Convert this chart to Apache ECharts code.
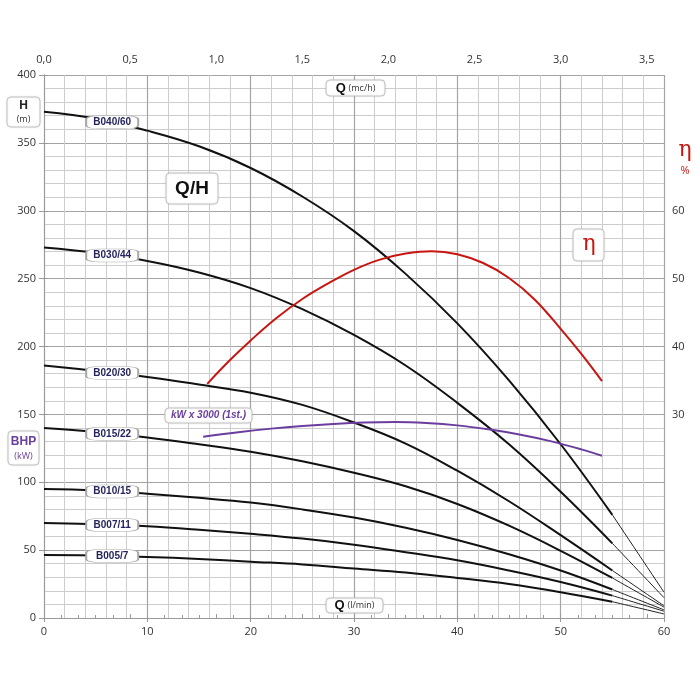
<!DOCTYPE html>
<html>
<head>
<meta charset="utf-8">
<script src="https://cdn.jsdelivr.net/npm/echarts@6/dist/echarts.min.js"></script>
<style>
  html, body { margin: 0; padding: 0; background: #fff; }
  #main { width: 700px; height: 700px; }
</style>
</head>
<body>
<div id="main"></div>
<script>
// portata (l/min) per le curve Q/H
const qFlow = [0, 5, 10, 15, 20, 25, 30, 35, 40, 45, 50, 55, 60]

// prevalenza H (m) per ogni pompa
const hB040 = [373, 368, 359, 347.5, 331.5, 310.5, 285, 253.5, 217, 175, 128, 76, 19]
const hB030 = [273, 269, 263, 254.5, 243, 227.5, 208.5, 186, 158.5, 128, 93, 55, 15]
const hB020 = [186, 182, 177.5, 172, 166, 157, 144, 128.5, 108.5, 86, 61, 35, 9]
const hB015 = [140, 137, 133, 128, 122.5, 115.5, 107, 97, 84, 68, 49.5, 29.5, 8]
const hB010 = [95, 94, 91.5, 88.5, 85, 80, 74, 66.5, 57.5, 47, 35, 21, 6]
const hB007 = [70, 69, 67.5, 65, 62, 58.5, 54, 48.5, 42.5, 35, 26.5, 16.5, 5]
const hB005 = [46.5, 46, 45, 43.5, 41.5, 39.5, 36.5, 33.5, 29.5, 25, 19, 12, 3]

const pumpNames = ['B040/60', 'B030/44', 'B020/30', 'B015/22', 'B010/15', 'B007/11', 'B005/7']
const pumpHeads = [hB040, hB030, hB020, hB015, hB010, hB007, hB005]

// rendimento η (%)
const qEta = [15.8, 18, 20, 22.5, 25, 27.5, 30, 32.5, 35, 37.5, 40, 42.5, 45, 47.5, 50, 52, 54]
const eta = [34.5, 38, 40.9, 44.2, 47, 49.3, 51.3, 52.8, 53.7, 54.05, 53.6, 52.3, 50.1, 46.9, 42.6, 38.9, 34.9]

const qKw = [15.4, 19, 22, 25, 28, 31, 34, 37, 40, 43, 46, 49, 52, 54]
const kw = [133.5, 137, 139.5, 141.5, 143, 144, 144.3, 143.6, 141.9, 139, 135.2, 130.3, 124.2, 119.5]

// tick labels
const hTicks = [0, 50, 100, 150, 200, 250, 300, 350, 400]
const qTicks = [0, 10, 20, 30, 40, 50, 60]
const mchTicks = [0, 0.5, 1.0, 1.5, 2.0, 2.5, 3.0, 3.5]
const etaTicks = [30, 40, 50, 60]

const labelQ = 6.6   // dove stanno le etichette delle pompe
const tailFrom = 55  // da qui la curva è più sottile

const purple = '#6a3d9e'
const red = '#c8150f'
const font = 'Open Sans'

function interp (xs, ys, x) {
  for (let i = 0; i < xs.length - 1; i++) {
    if (x >= xs[i] && x <= xs[i + 1]) {
      const t = (x - xs[i]) / (xs[i + 1] - xs[i])
      return ys[i] + t * (ys[i + 1] - ys[i])
    }
  }
  return ys[ys.length - 1]
}

const series = []
pumpHeads.forEach((h, k) => {
  const pts = qFlow.map((q, i) => [q, h[i]])
  series.push({
    name: pumpNames[k],
    type: 'line',
    smooth: 0.4,
    symbol: 'none',
    lineStyle: { color: '#111', width: 2 },
    data: pts.filter(p => p[0] <= tailFrom),
    markPoint: {
      symbol: 'roundRect',
      symbolSize: [52, 13],
      itemStyle: { color: '#fff', borderColor: '#a8a8a8', borderWidth: 1 },
      label: {
        show: true,
        formatter: pumpNames[k],
        color: '#25255e',
        fontSize: 10,
        fontWeight: 'bold',
        fontFamily: 'Liberation Sans'
      },
      data: [{ coord: [labelQ, interp(qFlow, h, labelQ)] }]
    }
  })
  series.push({
    type: 'line',
    smooth: 0.4,
    symbol: 'none',
    lineStyle: { color: '#222', width: 1 },
    data: pts.filter(p => p[0] >= tailFrom)
  })
})

series.push({
  name: 'eta',
  type: 'line',
  yAxisIndex: 1,
  smooth: 0.4,
  symbol: 'none',
  lineStyle: { color: red, width: 2 },
  data: qEta.map((q, i) => [q, eta[i]])
})

series.push({
  name: 'kW',
  type: 'line',
  smooth: 0.4,
  symbol: 'none',
  lineStyle: { color: purple, width: 2 },
  data: qKw.map((q, i) => [q, kw[i]])
})

// riquadri con testo
function box (x, y, w, h) {
  return {
    type: 'rect',
    z: 100,
    shape: { x: x, y: y, width: w, height: h, r: 4 },
    style: { fill: '#fff', stroke: '#c4c4c4', lineWidth: 1, shadowBlur: 2, shadowColor: 'rgba(0,0,0,0.12)' }
  }
}
function txt (x, y, text, size, color, extra) {
  return {
    type: 'text',
    z: 101,
    x: x,
    y: y,
    style: Object.assign({
      text: text,
      fontSize: size,
      fill: color,
      fontFamily: font,
      align: 'center',
      verticalAlign: 'middle'
    }, extra || {})
  }
}
const qRich = {
  rich: {
    b: { fontSize: 13, fontWeight: 'bold', fill: '#111', fontFamily: 'Liberation Sans' },
    s: { fontSize: 9, fill: '#333', fontFamily: font }
  }
}

const graphics = [
  box(7, 97, 33, 30),
  txt(23.5, 106, 'H', 12, '#222', { fontWeight: 'bold', fontFamily: 'Liberation Sans' }),
  txt(23.5, 119, '(m)', 9, '#333'),
  box(8, 431, 31, 34),
  txt(23.5, 442, 'BHP', 12, purple, { fontWeight: 'bold', fontFamily: 'Liberation Sans' }),
  txt(23.5, 456, '(kW)', 9, purple),
  box(166, 173, 52, 31),
  txt(192, 189, 'Q/H', 19, '#111', { fontWeight: 'bold', fontFamily: 'Liberation Sans' }),
  box(573, 229, 31, 32),
  txt(589, 244, 'η', 22, red, { fontFamily: 'DejaVu Serif' }),
  box(326, 80, 59, 16),
  txt(355.5, 88, '{b|Q} {s|(mc/h)}', 11, '#111', qRich),
  box(326, 598, 57, 15),
  txt(354.5, 605.5, '{b|Q} {s|(l/min)}', 11, '#111', qRich),
  box(165, 408, 87, 15),
  txt(208.5, 415.5, 'kW x 3000 (1st.)', 10, purple, { fontStyle: 'italic', fontWeight: 'bold', fontFamily: 'Liberation Sans' }),
  txt(685, 150, 'η', 22, red, { fontFamily: 'DejaVu Serif' }),
  txt(685, 171, '%', 11, red)
]

const axisGrey = '#9a9a9a'
const labelStyle = { color: '#333', fontSize: 11, fontFamily: font }

const chart = echarts.init(document.getElementById('main'))
chart.setOption({
  animation: false,
  grid: { left: 44, right: 36, top: 75, bottom: 82 },
  xAxis: [
    {
      type: 'value',
      position: 'bottom',
      min: qTicks[0],
      max: qTicks[qTicks.length - 1],
      interval: 10,
      axisLine: { show: true, lineStyle: { color: axisGrey } },
      axisTick: { show: true, length: 4, lineStyle: { color: axisGrey } },
      axisLabel: Object.assign({ margin: 8 }, labelStyle),
      splitLine: { show: true, lineStyle: { color: '#a4a4a4', width: 1.2 } },
      minorTick: { show: false, splitNumber: 5 },
      minorSplitLine: { show: true, lineStyle: { color: '#cdcdcd', width: 1 } }
    },
    {
      type: 'value',
      position: 'top',
      min: 0,
      max: 3.6,
      interval: 0.5,
      axisLine: { show: true, lineStyle: { color: axisGrey } },
      axisTick: { show: true, length: 4, lineStyle: { color: axisGrey } },
      minorTick: { show: true, splitNumber: 5, length: 3, lineStyle: { color: axisGrey } },
      axisLabel: Object.assign({
        margin: 10,
        formatter: v => mchTicks.some(t => Math.abs(t - v) < 1e-6) ? v.toFixed(1).replace('.', ',') : ''
      }, labelStyle),
      splitLine: { show: false }
    }
  ],
  yAxis: [
    {
      type: 'value',
      position: 'left',
      min: hTicks[0],
      max: hTicks[hTicks.length - 1],
      interval: 50,
      axisLine: { show: true, lineStyle: { color: axisGrey } },
      axisTick: { show: true, length: 5, lineStyle: { color: axisGrey } },
      axisLabel: Object.assign({ margin: 8 }, labelStyle),
      splitLine: { show: true, lineStyle: { color: '#a4a4a4', width: 1.2 } },
      minorTick: { show: false, splitNumber: 5 },
      minorSplitLine: { show: true, lineStyle: { color: '#cdcdcd', width: 1 } }
    },
    {
      type: 'value',
      position: 'right',
      min: 0,
      max: 80,
      interval: 10,
      axisLine: { show: true, lineStyle: { color: axisGrey } },
      axisTick: { show: true, length: 4, lineStyle: { color: axisGrey } },
      axisLabel: Object.assign({
        margin: 8,
        formatter: v => etaTicks.indexOf(v) >= 0 ? String(v) : ''
      }, labelStyle),
      splitLine: { show: false }
    }
  ],
  graphic: graphics,
  series: series
})
</script>
</body>
</html>
